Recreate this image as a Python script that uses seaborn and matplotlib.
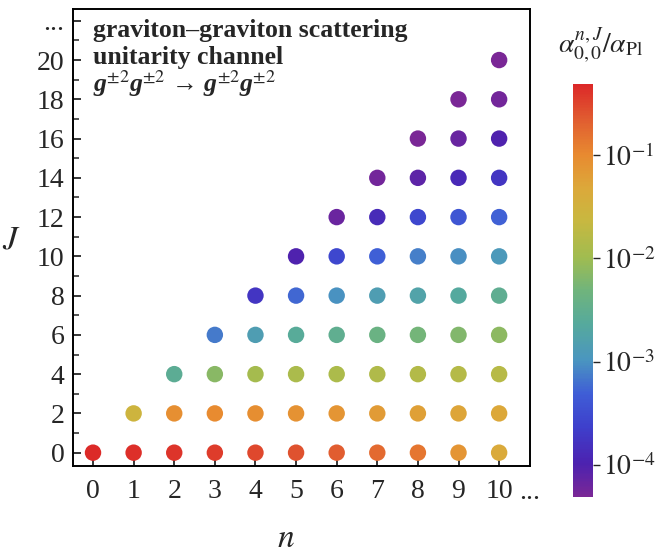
import numpy as np
import pandas as pd
import matplotlib
matplotlib.use("Agg")
import matplotlib.pyplot as plt
import seaborn as sns
from matplotlib.colors import LinearSegmentedColormap, LogNorm
from matplotlib.cm import ScalarMappable
from matplotlib.ticker import FixedLocator

# spin levels shown, one row of points each; n runs from J/2 up to 10
J_levels = [0, 2, 4, 6, 8, 10, 12, 14, 16, 18, 20]
# log10 of alpha_{0,0}^{n,J}/alpha_Pl (row by row, n increasing)
log_alpha_rows = [
    [-0.33, -0.36, -0.40, -0.45, -0.52, -0.58, -0.66, -0.75, -0.85, -1.12, -1.35],
    [-1.55, -1.05, -1.00, -1.03, -1.08, -1.12, -1.18, -1.22, -1.28, -1.32],
    [-2.55, -2.15, -1.95, -1.90, -1.88, -1.85, -1.82, -1.80, -1.78],
    [-3.15, -2.85, -2.60, -2.50, -2.38, -2.28, -2.20, -2.12],
    [-3.75, -3.25, -3.00, -2.85, -2.75, -2.65, -2.52],
    [-4.00, -3.55, -3.30, -3.12, -3.02, -2.92],
    [-4.20, -3.88, -3.55, -3.40, -3.28],
    [-4.25, -4.10, -3.90, -3.75],
    [-4.32, -4.18, -4.00],
    [-4.33, -4.25],
    [-4.35],
]
n_max = 10
cbar_range = (10 ** -4.31, 10 ** -0.31)
cbar_ticks = [1e-4, 1e-3, 1e-2, 1e-1]
cbar_ticklabels = [r"$10^{-4}$", r"$10^{-3}$", r"$10^{-2}$", r"$10^{-1}$"]

rows = []
for J, vals in zip(J_levels, log_alpha_rows):
    n_start = n_max + 1 - len(vals)
    for k, v in enumerate(vals):
        rows.append({"n": n_start + k, "J": J, "alpha": 10 ** v})
df = pd.DataFrame(rows)

# Mathematica-like "Rainbow" scheme
rainbow = LinearSegmentedColormap.from_list("rainbow_mma", [
    (0.00, "#7a2796"), (0.08, "#4c22b0"), (0.17, "#3e40cc"), (0.25, "#3f5ed6"),
    (0.33, "#4a95c0"), (0.42, "#56aa9c"), (0.50, "#70b47c"), (0.58, "#a0bc50"),
    (0.67, "#c8b840"), (0.75, "#dca83a"), (0.83, "#e88a30"), (0.92, "#e05a30"),
    (1.00, "#dc2828"),
])
norm = LogNorm(*cbar_range)

sns.set_style("white")
plt.rcParams["font.family"] = ["Liberation Serif", "DejaVu Serif"]
plt.rcParams["mathtext.fontset"] = "stix"

fig = plt.figure(figsize=(6.67, 5.53), dpi=100)
ax = fig.add_axes([0.109, 0.1573, 0.6856, 0.8264])

sns.scatterplot(data=df, x="n", y="J", hue="alpha", palette=rainbow, hue_norm=norm,
                s=140, linewidth=0, legend=False, ax=ax, zorder=3)

ax.set_xlim(-0.5, 10.76)
ax.set_ylim(-0.68, 22.6)
ax.set_xticks(range(0, 11))
ax.set_xticklabels([str(i) for i in range(0, 11)])
ax.set_yticks(list(range(0, 21, 2)) + [22])
ax.set_yticklabels([str(i) for i in range(0, 21, 2)] + ["..."])
ax.yaxis.set_minor_locator(FixedLocator(range(1, 23, 2)))
ax.tick_params(axis="both", which="major", direction="in", length=6, width=1.1,
               labelsize=20, color="black", bottom=True, left=True)
ax.tick_params(axis="x", pad=9)
ax.tick_params(axis="y", pad=6)
ax.tick_params(axis="y", which="minor", direction="in", length=4, width=1.1, left=True)
for sp in ax.spines.values():
    sp.set_color("black")
    sp.set_linewidth(1.4)

ax.set_xlabel(r"$n$", fontsize=24)
ax.xaxis.set_label_coords(0.467, -0.125)
ax.set_ylabel(r"$J$", fontsize=24, rotation=0)
ax.yaxis.set_label_coords(-0.135, 0.46)
ax.text(10.5, -0.072, "...", transform=ax.get_xaxis_transform(), fontsize=20,
        ha="left", va="baseline")

ax.text(0.044, 0.952, "graviton\u2013graviton scattering", transform=ax.transAxes,
        fontsize=18.5, fontweight="bold", va="center", ha="left")
ax.text(0.044, 0.894, "unitarity channel", transform=ax.transAxes,
        fontsize=18.5, fontweight="bold", va="center", ha="left")
ax.text(0.044, 0.837, "g$^{\\pm 2}$g$^{\\pm 2}$ \u2192 g$^{\\pm 2}$g$^{\\pm 2}$",
        transform=ax.transAxes, fontsize=18.5, fontweight="bold", fontstyle="italic",
        va="center", ha="left")

cax = fig.add_axes([0.859, 0.1013, 0.030, 0.7468])
cb = fig.colorbar(ScalarMappable(norm=norm, cmap=rainbow), cax=cax)
cb.outline.set_visible(False)
cb.set_ticks(cbar_ticks)
cb.set_ticklabels(cbar_ticklabels)
cb.minorticks_off()
cax.tick_params(which="major", direction="out", length=5, width=1, labelsize=20, pad=2)
fig.text(0.9, 0.918, r"$\alpha_{0,0}^{n,J}/\alpha_{\rm Pl}$", fontsize=20,
         ha="center", va="center")

fig.savefig("out.png", dpi=100)
